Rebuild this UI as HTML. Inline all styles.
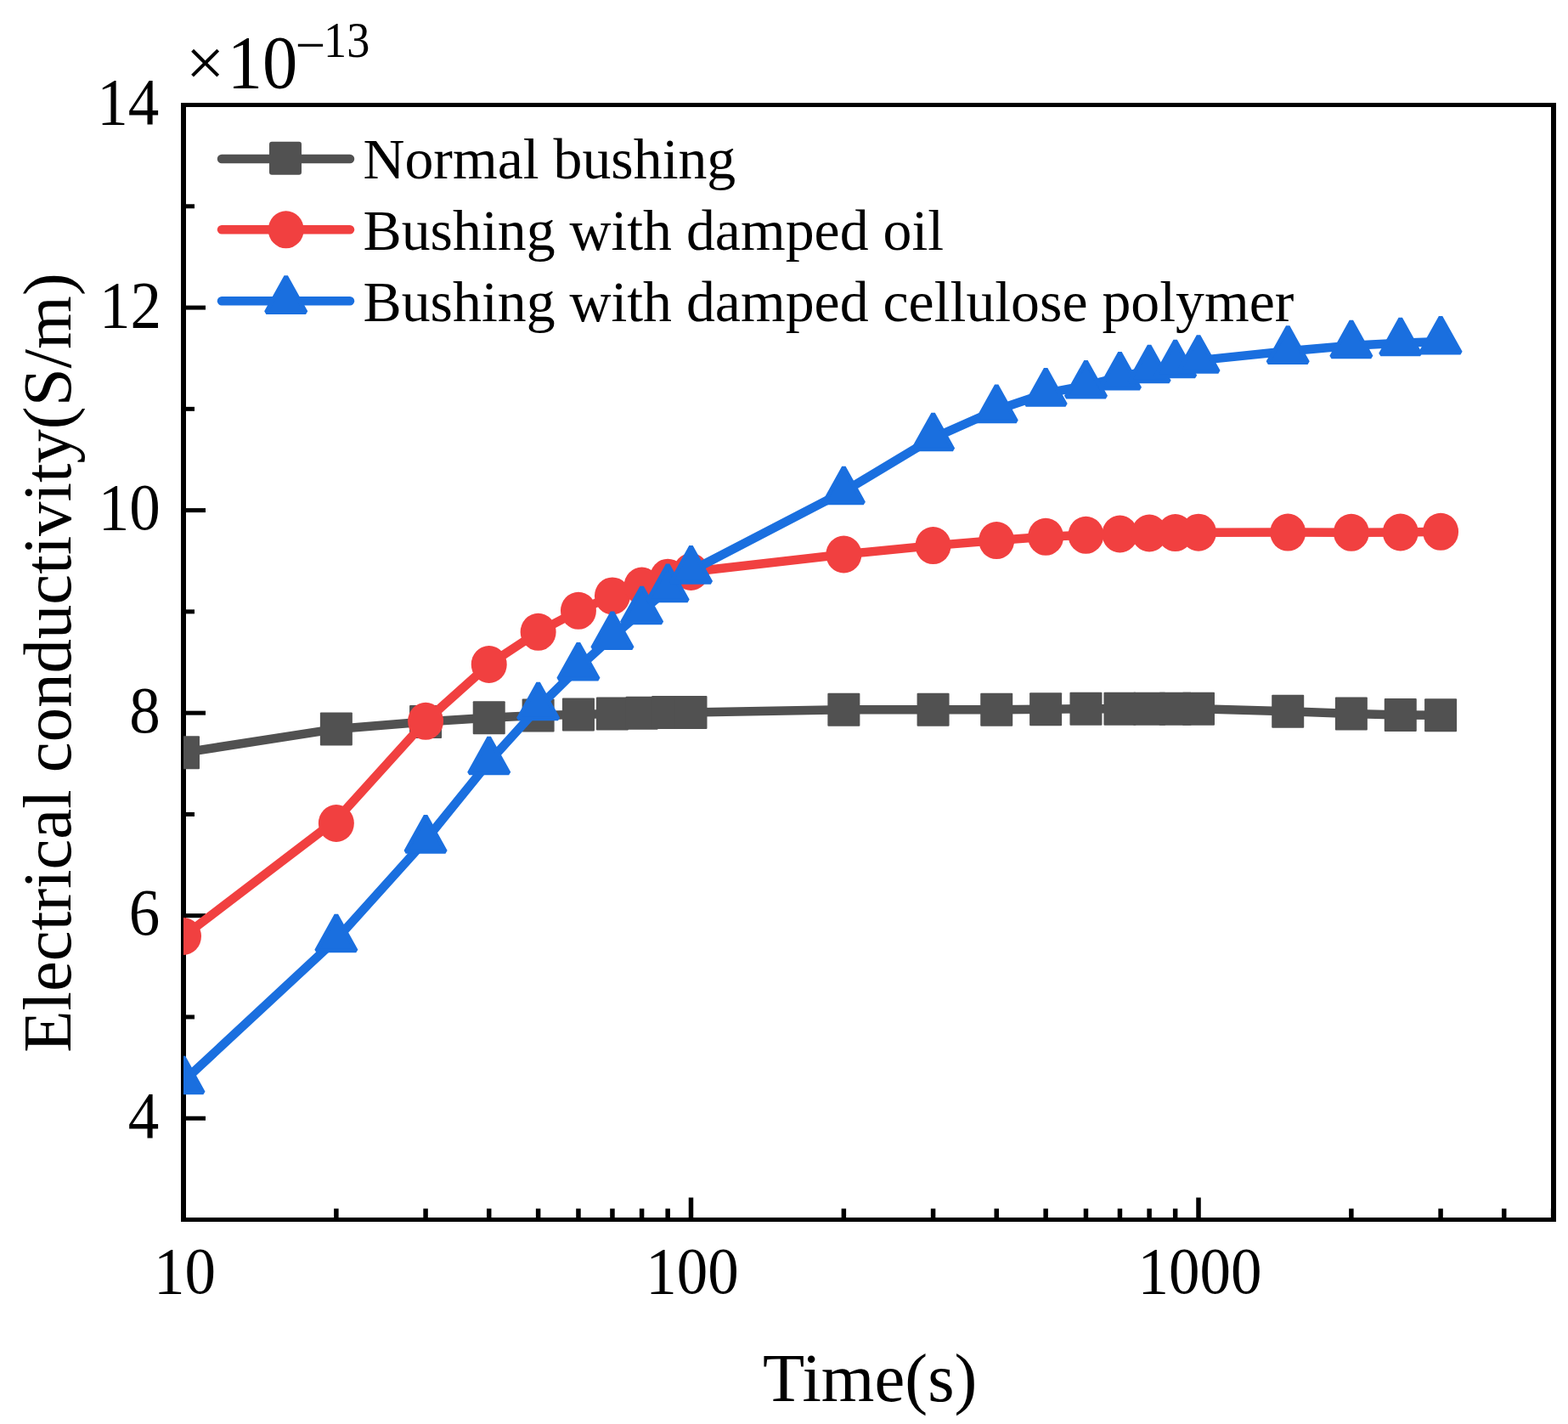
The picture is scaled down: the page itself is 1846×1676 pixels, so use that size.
<!DOCTYPE html>
<html><head><meta charset="utf-8"><style>
html,body{margin:0;padding:0;background:#fff;}
svg{display:block;}
text{font-family:"Liberation Serif","Times New Roman",serif;fill:#000;}
</style></head><body>
<svg width="1846" height="1676" viewBox="0 0 1846 1676">
<rect width="1846" height="1676" fill="#fff"/>
<defs><clipPath id="pa"><rect x="216" y="123.5" width="1613" height="1312.0"/></clipPath></defs>
<g fill="#000">
<rect x="213" y="121" width="6" height="1317"/>
<rect x="1826" y="121" width="6" height="1317"/>
<rect x="213" y="121" width="1619" height="5"/>
<rect x="213" y="1433" width="1619" height="5"/>
<rect x="216" y="1313.73" width="26" height="5"/>
<rect x="216" y="1194.46" width="13" height="5"/>
<rect x="216" y="1075.19" width="26" height="5"/>
<rect x="216" y="955.92" width="13" height="5"/>
<rect x="216" y="836.65" width="26" height="5"/>
<rect x="216" y="717.38" width="13" height="5"/>
<rect x="216" y="598.11" width="26" height="5"/>
<rect x="216" y="478.84" width="13" height="5"/>
<rect x="216" y="359.57" width="26" height="5"/>
<rect x="216" y="240.30" width="13" height="5"/>
<rect x="393.12" y="1422.50" width="5.5" height="13"/>
<rect x="498.33" y="1422.50" width="5.5" height="13"/>
<rect x="572.98" y="1422.50" width="5.5" height="13"/>
<rect x="630.88" y="1422.50" width="5.5" height="13"/>
<rect x="678.20" y="1422.50" width="5.5" height="13"/>
<rect x="718.20" y="1422.50" width="5.5" height="13"/>
<rect x="752.85" y="1422.50" width="5.5" height="13"/>
<rect x="783.41" y="1422.50" width="5.5" height="13"/>
<rect x="810.75" y="1409.50" width="5.5" height="26"/>
<rect x="990.62" y="1422.50" width="5.5" height="13"/>
<rect x="1095.83" y="1422.50" width="5.5" height="13"/>
<rect x="1170.48" y="1422.50" width="5.5" height="13"/>
<rect x="1228.38" y="1422.50" width="5.5" height="13"/>
<rect x="1275.70" y="1422.50" width="5.5" height="13"/>
<rect x="1315.70" y="1422.50" width="5.5" height="13"/>
<rect x="1350.35" y="1422.50" width="5.5" height="13"/>
<rect x="1380.91" y="1422.50" width="5.5" height="13"/>
<rect x="1408.25" y="1409.50" width="5.5" height="26"/>
<rect x="1588.12" y="1422.50" width="5.5" height="13"/>
<rect x="1693.33" y="1422.50" width="5.5" height="13"/>
<rect x="1767.98" y="1422.50" width="5.5" height="13"/>
<rect x="1825.88" y="1422.50" width="5.5" height="13"/>
</g>
<g clip-path="url(#pa)">
<polyline points="216.00,885.80 395.87,857.90 501.08,849.40 575.73,844.80 633.63,842.10 680.95,840.90 720.95,839.90 755.60,839.20 786.16,838.50 813.50,838.50 993.37,835.20 1098.58,835.20 1173.23,835.20 1231.13,834.70 1278.45,834.30 1318.45,834.30 1353.10,834.30 1383.66,834.30 1411.00,834.30 1516.21,837.30 1590.87,839.90 1648.77,841.40 1696.08,841.80" fill="none" stroke="#515151" stroke-width="10.5" stroke-linejoin="round"/>
<rect x="197.00" y="866.30" width="38" height="39" rx="1" fill="#515151"/>
<rect x="376.87" y="838.40" width="38" height="39" rx="1" fill="#515151"/>
<rect x="482.08" y="829.90" width="38" height="39" rx="1" fill="#515151"/>
<rect x="556.73" y="825.30" width="38" height="39" rx="1" fill="#515151"/>
<rect x="614.63" y="822.60" width="38" height="39" rx="1" fill="#515151"/>
<rect x="661.95" y="821.40" width="38" height="39" rx="1" fill="#515151"/>
<rect x="701.95" y="820.40" width="38" height="39" rx="1" fill="#515151"/>
<rect x="736.60" y="819.70" width="38" height="39" rx="1" fill="#515151"/>
<rect x="767.16" y="819.00" width="38" height="39" rx="1" fill="#515151"/>
<rect x="794.50" y="819.00" width="38" height="39" rx="1" fill="#515151"/>
<rect x="974.37" y="815.70" width="38" height="39" rx="1" fill="#515151"/>
<rect x="1079.58" y="815.70" width="38" height="39" rx="1" fill="#515151"/>
<rect x="1154.23" y="815.70" width="38" height="39" rx="1" fill="#515151"/>
<rect x="1212.13" y="815.20" width="38" height="39" rx="1" fill="#515151"/>
<rect x="1259.45" y="814.80" width="38" height="39" rx="1" fill="#515151"/>
<rect x="1299.45" y="814.80" width="38" height="39" rx="1" fill="#515151"/>
<rect x="1334.10" y="814.80" width="38" height="39" rx="1" fill="#515151"/>
<rect x="1364.66" y="814.80" width="38" height="39" rx="1" fill="#515151"/>
<rect x="1392.00" y="814.80" width="38" height="39" rx="1" fill="#515151"/>
<rect x="1497.21" y="817.80" width="38" height="39" rx="1" fill="#515151"/>
<rect x="1571.87" y="820.40" width="38" height="39" rx="1" fill="#515151"/>
<rect x="1629.77" y="821.90" width="38" height="39" rx="1" fill="#515151"/>
<rect x="1677.08" y="822.30" width="38" height="39" rx="1" fill="#515151"/>
<polyline points="216.00,1102.00 395.87,965.00 501.08,848.80 575.73,782.00 633.63,743.80 680.95,718.80 720.95,701.40 755.60,689.50 786.16,679.70 813.50,673.00 993.37,652.50 1098.58,642.10 1173.23,636.10 1231.13,631.80 1278.45,629.80 1318.45,628.50 1353.10,627.50 1383.66,627.10 1411.00,626.70 1516.21,626.60 1590.87,626.80 1648.77,626.50 1696.08,625.80" fill="none" stroke="#F14040" stroke-width="10.5" stroke-linejoin="round"/>
<ellipse cx="216.00" cy="1102.00" rx="21" ry="22" fill="#F14040"/>
<ellipse cx="395.87" cy="969.00" rx="21" ry="22" fill="#F14040"/>
<ellipse cx="501.08" cy="848.80" rx="21" ry="22" fill="#F14040"/>
<ellipse cx="575.73" cy="782.00" rx="21" ry="22" fill="#F14040"/>
<ellipse cx="633.63" cy="743.80" rx="21" ry="22" fill="#F14040"/>
<ellipse cx="680.95" cy="718.80" rx="21" ry="22" fill="#F14040"/>
<ellipse cx="720.95" cy="701.40" rx="21" ry="22" fill="#F14040"/>
<ellipse cx="755.60" cy="689.50" rx="21" ry="22" fill="#F14040"/>
<ellipse cx="786.16" cy="679.70" rx="21" ry="22" fill="#F14040"/>
<ellipse cx="813.50" cy="673.00" rx="21" ry="22" fill="#F14040"/>
<ellipse cx="993.37" cy="652.50" rx="21" ry="22" fill="#F14040"/>
<ellipse cx="1098.58" cy="642.10" rx="21" ry="22" fill="#F14040"/>
<ellipse cx="1173.23" cy="636.10" rx="21" ry="22" fill="#F14040"/>
<ellipse cx="1231.13" cy="631.80" rx="21" ry="22" fill="#F14040"/>
<ellipse cx="1278.45" cy="629.80" rx="21" ry="22" fill="#F14040"/>
<ellipse cx="1318.45" cy="628.50" rx="21" ry="22" fill="#F14040"/>
<ellipse cx="1353.10" cy="627.50" rx="21" ry="22" fill="#F14040"/>
<ellipse cx="1383.66" cy="627.10" rx="21" ry="22" fill="#F14040"/>
<ellipse cx="1411.00" cy="626.70" rx="21" ry="22" fill="#F14040"/>
<ellipse cx="1516.21" cy="626.60" rx="21" ry="22" fill="#F14040"/>
<ellipse cx="1590.87" cy="626.80" rx="21" ry="22" fill="#F14040"/>
<ellipse cx="1648.77" cy="626.50" rx="21" ry="22" fill="#F14040"/>
<ellipse cx="1696.08" cy="625.80" rx="21" ry="22" fill="#F14040"/>
<polyline points="216.00,1272.70 395.87,1105.70 501.08,989.00 575.73,896.70 633.63,832.70 680.95,785.90 720.95,749.40 755.60,719.60 786.16,693.50 813.50,672.00 993.37,578.70 1098.58,515.60 1173.23,482.50 1231.13,463.00 1278.45,453.90 1318.45,443.90 1353.10,435.70 1383.66,429.70 1411.00,424.10 1516.21,413.30 1590.87,406.70 1648.77,403.70 1696.08,401.90" fill="none" stroke="#1A6FDF" stroke-width="10.5" stroke-linejoin="round"/>
<polygon points="216.00,1243.95 239.35,1285.85 192.65,1285.85" fill="#1A6FDF" stroke="#1A6FDF" stroke-width="5" stroke-linejoin="bevel"/>
<polygon points="395.87,1076.95 419.22,1118.85 372.52,1118.85" fill="#1A6FDF" stroke="#1A6FDF" stroke-width="5" stroke-linejoin="bevel"/>
<polygon points="501.08,960.25 524.43,1002.15 477.73,1002.15" fill="#1A6FDF" stroke="#1A6FDF" stroke-width="5" stroke-linejoin="bevel"/>
<polygon points="575.73,867.95 599.08,909.85 552.38,909.85" fill="#1A6FDF" stroke="#1A6FDF" stroke-width="5" stroke-linejoin="bevel"/>
<polygon points="633.63,803.95 656.98,845.85 610.28,845.85" fill="#1A6FDF" stroke="#1A6FDF" stroke-width="5" stroke-linejoin="bevel"/>
<polygon points="680.95,757.15 704.30,799.05 657.60,799.05" fill="#1A6FDF" stroke="#1A6FDF" stroke-width="5" stroke-linejoin="bevel"/>
<polygon points="720.95,720.65 744.30,762.55 697.60,762.55" fill="#1A6FDF" stroke="#1A6FDF" stroke-width="5" stroke-linejoin="bevel"/>
<polygon points="755.60,690.85 778.95,732.75 732.25,732.75" fill="#1A6FDF" stroke="#1A6FDF" stroke-width="5" stroke-linejoin="bevel"/>
<polygon points="786.16,664.75 809.51,706.65 762.81,706.65" fill="#1A6FDF" stroke="#1A6FDF" stroke-width="5" stroke-linejoin="bevel"/>
<polygon points="813.50,643.25 836.85,685.15 790.15,685.15" fill="#1A6FDF" stroke="#1A6FDF" stroke-width="5" stroke-linejoin="bevel"/>
<polygon points="993.37,549.95 1016.72,591.85 970.02,591.85" fill="#1A6FDF" stroke="#1A6FDF" stroke-width="5" stroke-linejoin="bevel"/>
<polygon points="1098.58,486.85 1121.93,528.75 1075.23,528.75" fill="#1A6FDF" stroke="#1A6FDF" stroke-width="5" stroke-linejoin="bevel"/>
<polygon points="1173.23,453.75 1196.58,495.65 1149.88,495.65" fill="#1A6FDF" stroke="#1A6FDF" stroke-width="5" stroke-linejoin="bevel"/>
<polygon points="1231.13,434.25 1254.48,476.15 1207.78,476.15" fill="#1A6FDF" stroke="#1A6FDF" stroke-width="5" stroke-linejoin="bevel"/>
<polygon points="1278.45,425.15 1301.80,467.05 1255.10,467.05" fill="#1A6FDF" stroke="#1A6FDF" stroke-width="5" stroke-linejoin="bevel"/>
<polygon points="1318.45,415.15 1341.80,457.05 1295.10,457.05" fill="#1A6FDF" stroke="#1A6FDF" stroke-width="5" stroke-linejoin="bevel"/>
<polygon points="1353.10,406.95 1376.45,448.85 1329.75,448.85" fill="#1A6FDF" stroke="#1A6FDF" stroke-width="5" stroke-linejoin="bevel"/>
<polygon points="1383.66,400.95 1407.01,442.85 1360.31,442.85" fill="#1A6FDF" stroke="#1A6FDF" stroke-width="5" stroke-linejoin="bevel"/>
<polygon points="1411.00,395.35 1434.35,437.25 1387.65,437.25" fill="#1A6FDF" stroke="#1A6FDF" stroke-width="5" stroke-linejoin="bevel"/>
<polygon points="1516.21,384.55 1539.56,426.45 1492.86,426.45" fill="#1A6FDF" stroke="#1A6FDF" stroke-width="5" stroke-linejoin="bevel"/>
<polygon points="1590.87,377.95 1614.22,419.85 1567.52,419.85" fill="#1A6FDF" stroke="#1A6FDF" stroke-width="5" stroke-linejoin="bevel"/>
<polygon points="1648.77,374.95 1672.12,416.85 1625.42,416.85" fill="#1A6FDF" stroke="#1A6FDF" stroke-width="5" stroke-linejoin="bevel"/>
<polygon points="1696.08,373.15 1719.43,415.05 1672.73,415.05" fill="#1A6FDF" stroke="#1A6FDF" stroke-width="5" stroke-linejoin="bevel"/>
</g>
<line x1="261" y1="187" x2="412" y2="187" stroke="#515151" stroke-width="10.5" stroke-linecap="round"/>
<rect x="317.00" y="166.80" width="38" height="39" rx="3" fill="#515151"/>
<line x1="261" y1="270.3" x2="412" y2="270.3" stroke="#F14040" stroke-width="10.5" stroke-linecap="round"/>
<ellipse cx="336.70" cy="270.30" rx="21" ry="22" fill="#F14040"/>
<line x1="261" y1="354.3" x2="412" y2="354.3" stroke="#1A6FDF" stroke-width="10.5" stroke-linecap="round"/>
<polygon points="336.70,325.55 360.05,367.45 313.35,367.45" fill="#1A6FDF" stroke="#1A6FDF" stroke-width="5" stroke-linejoin="bevel"/>
<text x="427.5" y="210" font-size="67.8">Normal bushing</text>
<text x="427.5" y="294" font-size="67.8">Bushing with damped oil</text>
<text x="427.5" y="378" font-size="67.8">Bushing with damped cellulose polymer</text>
<text x="0" y="0" font-size="77.5" transform="translate(150.64 1338.9) scale(0.942 1)">4</text>
<text x="0" y="0" font-size="77.5" transform="translate(151.67 1100.4) scale(0.942 1)">6</text>
<text x="0" y="0" font-size="77.5" transform="translate(152.28 861.9) scale(0.942 1)">8</text>
<text x="0" y="0" font-size="77.5" transform="translate(115.78 623.3) scale(0.942 1)">10</text>
<text x="0" y="0" font-size="77.5" transform="translate(117.02 384.8) scale(0.942 1)">12</text>
<text x="0" y="0" font-size="77.5" transform="translate(114.14 146.2) scale(0.942 1)">14</text>
<text x="0" y="0" font-size="77.5" text-anchor="middle" transform="translate(217.6 1522.2) scale(0.942 1)">10</text>
<text x="0" y="0" font-size="77.5" text-anchor="middle" transform="translate(815.1 1522.2) scale(0.942 1)">100</text>
<text x="0" y="0" font-size="77.5" text-anchor="middle" transform="translate(1412.6 1522.2) scale(0.942 1)">1000</text>
<text x="0" y="0" font-size="81" text-anchor="middle" transform="translate(1024.2 1649) scale(0.995 1)">Time(s)</text>
<text transform="translate(83 780) rotate(-90)" font-size="80.8" text-anchor="middle">Electrical conductivity(S/m)</text>
<text x="218.7" y="101" font-size="81">×</text>
<text x="0" y="0" font-size="89" transform="translate(267.7 103.0) scale(0.928 1)">10</text>
<text x="0" y="0" font-size="63" transform="translate(347.7 73.9)">−</text>
<text x="0" y="0" font-size="60" transform="translate(381 66.5) scale(0.905 1)">13</text>
</svg></body></html>
